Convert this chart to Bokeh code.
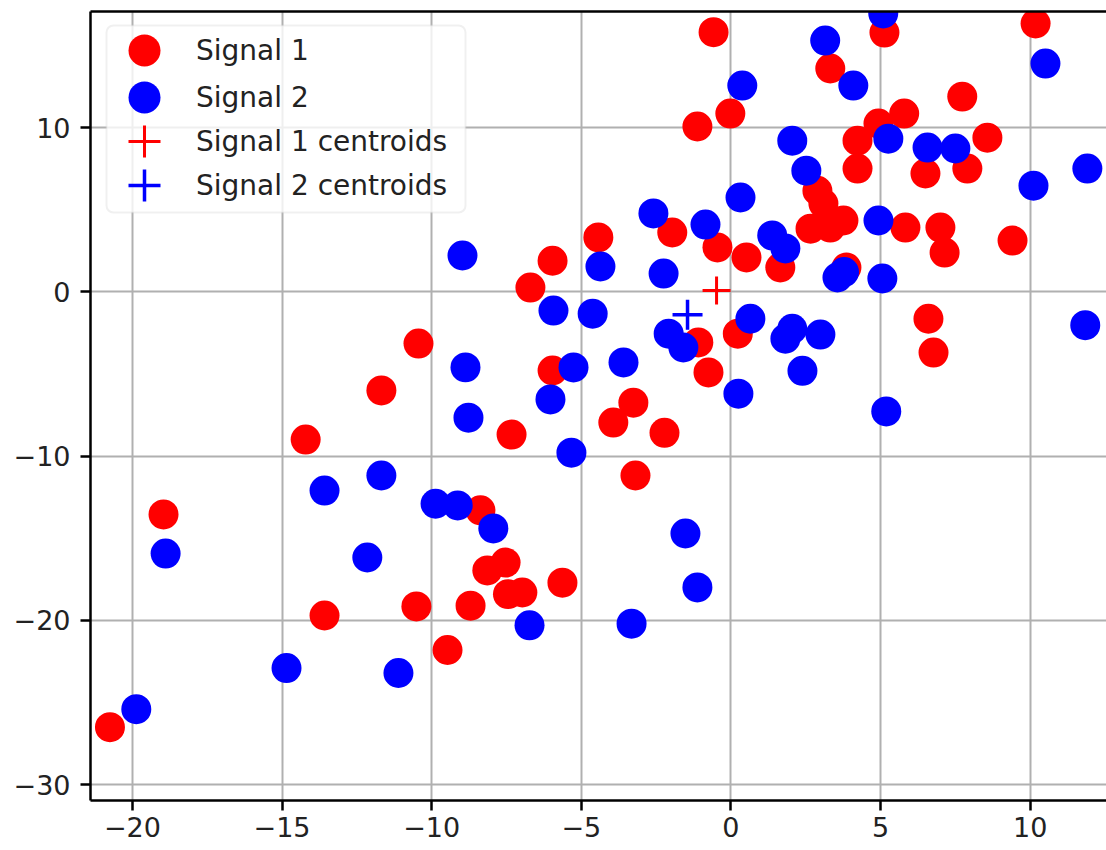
from bokeh.plotting import figure
from bokeh.models import Range1d, FixedTicker, LinearAxis, Legend, LegendItem, BoxAnnotation
from bokeh.embed import file_html
from bokeh.resources import INLINE

# ---- data ----
sig1_x = [-0.58, -1.12, -0.02, -5.96, -6.70, -4.43, -1.96, -0.45, 0.52, -1.09,
          -0.75, 0.23, -10.44, -5.96, -7.33, -3.93, -3.26, -2.22, -3.19, -5.63,
          -8.14, -7.53, -6.97, -7.45, -8.70, -8.37, -14.21, -11.68, -18.96, -10.51,
          -13.58, -20.75, -9.47, 5.13, 3.32, 10.18, 7.73, 5.79, 4.93, 4.23,
          8.57, 6.50, 7.90, 4.23, 2.89, 3.09, 2.66, 3.32, 3.76, 5.83,
          7.00, 7.14, 9.41, 1.65, 3.86, 6.60, 6.77]
sig1_y = [15.80, 10.06, 10.85, 1.89, 0.26, 3.31, 3.61, 2.70, 2.09, -3.08,
          -4.91, -2.55, -3.15, -4.79, -8.69, -7.96, -6.75, -8.58, -11.18, -17.70,
          -16.96, -16.48, -18.30, -18.40, -19.10, -13.30, -8.99, -6.00, -13.55, -19.15,
          -19.70, -26.50, -21.80, 15.78, 13.59, 16.33, 11.88, 10.85, 10.24, 9.20,
          9.38, 7.20, 7.50, 7.50, 6.15, 5.37, 3.84, 3.91, 4.34, 3.91,
          3.91, 2.39, 3.12, 1.48, 1.48, -1.64, -3.70]

sig2_x = [0.38, -8.97, -4.36, -2.59, -0.85, 0.32, -2.25, -5.93, -4.62, -2.08,
          -1.59, 0.65, -8.87, -5.26, -3.59, 0.25, -8.77, -6.03, -5.33, -1.52,
          -1.12, -9.87, -9.13, -7.94, -3.32, -6.73, -13.58, -11.68, -18.89, -12.15,
          -14.85, -11.11, -19.87, 5.09, 3.15, 4.09, 10.51, 5.26, 2.05, 6.57,
          7.50, 2.52, 11.91, 10.11, 4.93, 1.38, 1.82, 3.56, 3.78, 5.06,
          2.05, 1.82, 2.99, 2.39, 11.84, 5.19]
sig2_y = [12.55, 2.21, 1.54, 4.77, 4.09, 5.74, 1.11, -1.14, -1.33, -2.55,
          -3.39, -1.64, -4.60, -4.60, -4.30, -6.20, -7.66, -6.55, -9.79, -14.71,
          -17.99, -12.90, -13.00, -14.40, -20.20, -20.30, -12.10, -11.18, -15.93, -16.17,
          -22.90, -23.20, -25.40, 16.94, 15.29, 12.55, 13.89, 9.32, 9.20, 8.78,
          8.72, 7.37, 7.50, 6.46, 4.34, 3.43, 2.64, 0.87, 1.20, 0.81,
          -2.25, -2.85, -2.60, -4.81, -2.03, -7.28]

cent1_x = [-0.48]
cent1_y = [0.08]
cent2_x = [-1.45]
cent2_y = [-1.40]

x_ticks = [-20, -15, -10, -5, 0, 5, 10]
y_ticks = [-30, -20, -10, 0, 10]
legend_labels = ["Signal 1", "Signal 2", "Signal 1 centroids", "Signal 2 centroids"]


def minus(v):
    return str(v).replace("-", "\u2212")


FONT = "DejaVu Sans"
TXT = "#222222"

p = figure(width=1106, height=850,
           x_range=Range1d(-21.40, 12.55), y_range=Range1d(-30.96, 17.06),
           output_backend="svg", toolbar_location=None,
           min_border_left=90, min_border_right=0, min_border_top=11, min_border_bottom=50)
p.outline_line_color = None
p.background_fill_color = "white"
p.border_fill_color = "white"

# axes
for ax, ticks in ((p.xaxis[0], x_ticks), (p.yaxis[0], y_ticks)):
    ax.ticker = FixedTicker(ticks=ticks)
    ax.major_label_overrides = {t: minus(t) for t in ticks}
    ax.major_label_text_font = FONT
    ax.major_label_text_font_size = "27px"
    ax.major_label_text_color = TXT
    ax.axis_line_color = "black"
    ax.axis_line_width = 2.5
    ax.major_tick_line_color = "black"
    ax.major_tick_line_width = 2.5
    ax.major_tick_out = 10
    ax.major_tick_in = 0
    ax.minor_tick_line_color = None
p.xaxis[0].major_label_standoff = 6
p.yaxis[0].major_label_standoff = 10

top_axis = LinearAxis(ticker=FixedTicker(ticks=[]), major_label_text_font_size="0px",
                      major_tick_out=0, major_tick_in=0, minor_tick_line_color=None,
                      axis_line_color="black", axis_line_width=2.5, major_label_standoff=0)
p.add_layout(top_axis, "above")

p.xgrid[0].ticker = FixedTicker(ticks=x_ticks)
p.ygrid[0].ticker = FixedTicker(ticks=y_ticks)
for g in (p.xgrid[0], p.ygrid[0]):
    g.grid_line_color = "#b0b0b0"
    g.grid_line_width = 2

# data
r1 = p.scatter(sig1_x, sig1_y, size=30, marker="circle", fill_color="#ff0000", line_color=None)
r2 = p.scatter(sig2_x, sig2_y, size=30, marker="circle", fill_color="#0000ff", line_color=None)
r3 = p.scatter(cent1_x, cent1_y, size=28, marker="cross", line_color="#ff0000", line_width=3)
r4 = p.scatter(cent2_x, cent2_y, size=30, marker="cross", line_color="#0000ff", line_width=3.5)

# legend frame
box = BoxAnnotation(left=106, right=465, top=25, bottom=212,
                    left_units="canvas", right_units="canvas", top_units="canvas", bottom_units="canvas",
                    fill_color="white", fill_alpha=0.8, line_color="#cccccc", line_width=2,
                    border_radius=7)
p.add_layout(box)

# one legend per entry so the rows can sit closer than the marker box height
row_offsets = [710, 663, 619, 575]  # legend bottom, px above frame bottom
for lab, r, off in zip(legend_labels, [r1, r2, r3, r4], row_offsets):
    lg = Legend(items=[LegendItem(label=lab, renderers=[r])],
                location=(14, off), padding=0, spacing=0, margin=0,
                glyph_width=80, glyph_height=80, label_standoff=12,
                label_text_font=FONT, label_text_font_size="28px", label_text_color=TXT,
                border_line_color=None, background_fill_alpha=0)
    p.add_layout(lg)

open("out.html", "w").write(file_html(p, INLINE))
